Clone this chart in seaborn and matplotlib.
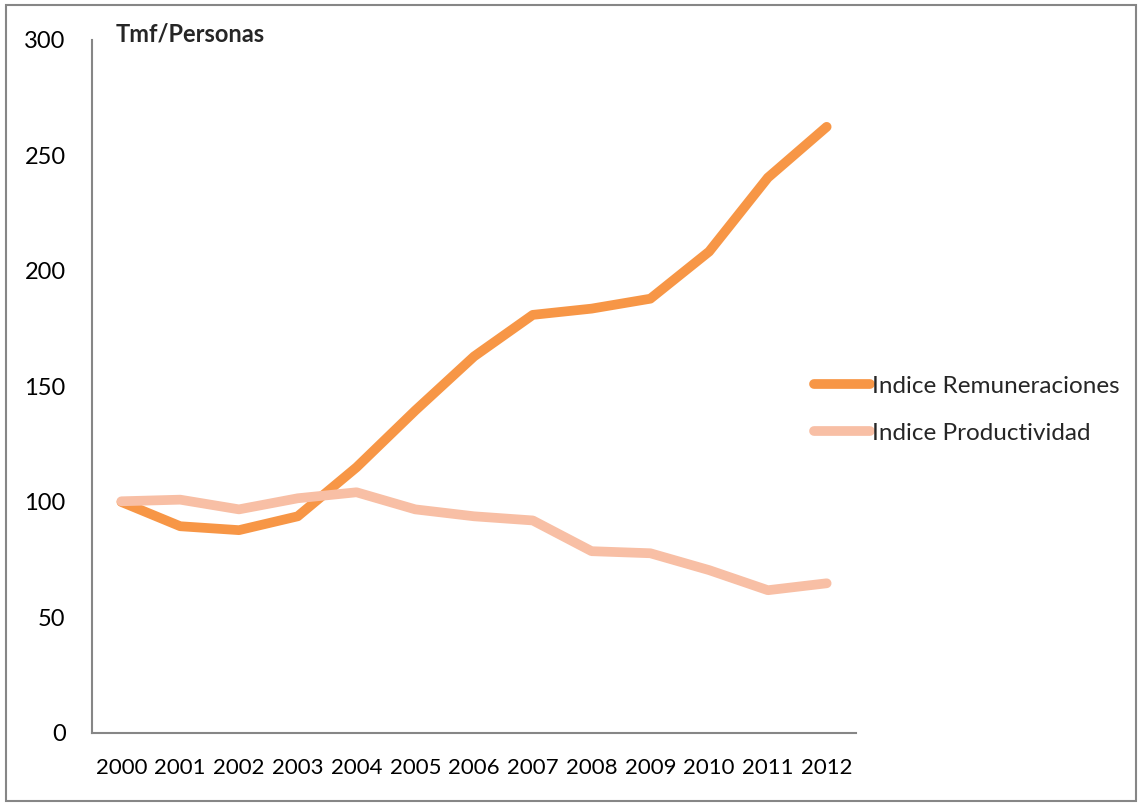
import pandas as pd
import matplotlib.pyplot as plt
import seaborn as sns
from matplotlib.patches import Rectangle

# Datos
anios = ['2000', '2001', '2002', '2003', '2004', '2005', '2006',
         '2007', '2008', '2009', '2010', '2011', '2012']
remuneraciones = [100, 89.5, 87.8, 93.8, 115, 139.6, 163, 181, 183.7, 188, 208.4, 240.4, 262.4]
productividad = [100.3, 101, 96.8, 101.6, 104.2, 96.8, 93.8, 92, 78.7, 77.8, 70.5, 61.8, 64.8]
series = ['Indice Remuneraciones', 'Indice Productividad']
colores = ['#F79646', '#F8BFA5']

df = pd.DataFrame({
    'anio': anios * 2,
    'valor': remuneraciones + productividad,
    'serie': [series[0]] * len(anios) + [series[1]] * len(anios),
})

sns.set_style('white')
plt.rcParams['font.family'] = ['Lato', 'DejaVu Sans']

fig = plt.figure(figsize=(11.42, 8.06), dpi=100)
ax = fig.add_axes([0.0806, 0.0906, 0.669, 0.8598])

sns.lineplot(data=df, x='anio', y='valor', hue='serie', palette=colores,
             linewidth=7, sort=False, ax=ax, solid_capstyle='round')

ax.set_xlim(-0.5, 12.5)
ax.set_ylim(0, 300)
ax.set_yticks(range(0, 301, 50))
ax.set_xlabel('')
ax.set_ylabel('')
ax.tick_params(axis='both', length=0, labelsize=16, colors='black')
ax.tick_params(axis='y', labelsize=17, pad=19)
ax.tick_params(axis='x', pad=18)
for s in ['top', 'right']:
    ax.spines[s].set_visible(False)
for s in ['left', 'bottom']:
    ax.spines[s].set_color('#868686')
    ax.spines[s].set_linewidth(1.5)

leg = ax.legend(loc='upper left', bbox_to_anchor=(0.694, 0.561),
                bbox_transform=fig.transFigure, frameon=False, fontsize=17.5,
                handlelength=2.3, handletextpad=0.05, labelspacing=1.07)
for line in leg.get_lines():
    line.set_linewidth(7)
    line.set_solid_capstyle('round')

fig.text(0.101, 0.958, 'Tmf/Personas', fontsize=17, fontweight='bold', va='center')

fig.patches.append(Rectangle((0.005, 0.006), 0.99, 0.988, transform=fig.transFigure,
                             fill=False, edgecolor='#868686', linewidth=1.5))

fig.savefig('out.png', dpi=100)
